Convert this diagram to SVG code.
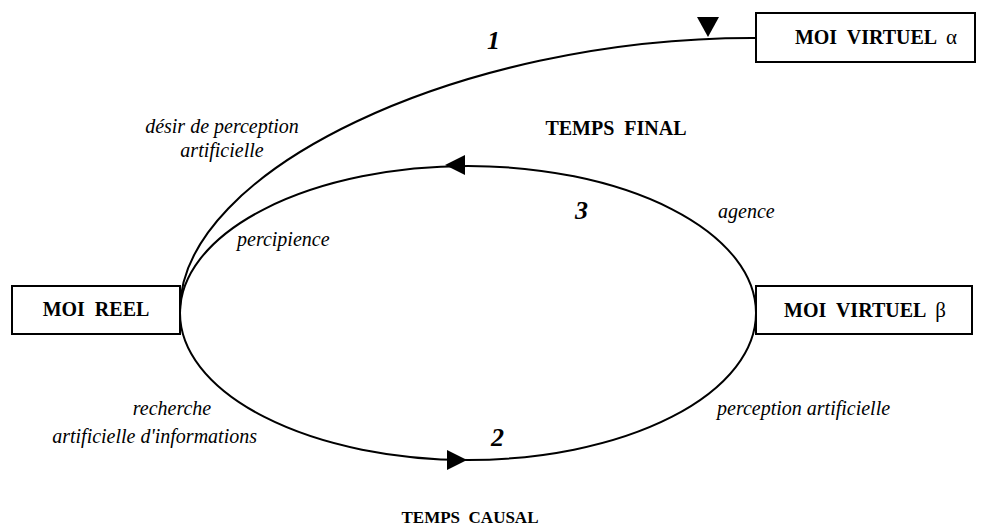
<svg xmlns="http://www.w3.org/2000/svg" width="983" height="528" viewBox="0 0 983 528">
<style>
.box{fill:#fff;stroke:#000;stroke-width:2}
.lbl{font-family:"Liberation Serif","Times New Roman",serif;font-weight:bold;font-size:20px;fill:#000}
.gr{font-weight:normal;font-size:21px}
.it{font-family:"Liberation Serif","Times New Roman",serif;font-style:italic;font-size:20px;fill:#000}
.num{font-family:"Liberation Serif","Times New Roman",serif;font-style:italic;font-weight:bold;font-size:26px;fill:#000}
.ln{fill:none;stroke:#000;stroke-width:2}
.ah{fill:#000;stroke:none}
</style>
<rect width="983" height="528" fill="#fff"/>
<g id="connectors">
<ellipse class="ln" cx="468" cy="313" rx="288" ry="147"/>
<path class="ln" d="M180,310 C180,170 460,38 752,38 L756,38"/>
<polygon class="ah" points="445,165 465,155 465,175"/>
<polygon class="ah" points="467,460 447,450 447,470"/>
<polygon class="ah" points="708,37 697,17 719,17"/>
</g>
<g id="moi-reel">
<rect class="box" x="12" y="286" width="168" height="48"/>
<text class="lbl" x="96" y="316" text-anchor="middle" xml:space="preserve">MOI  REEL</text>
</g>
<g id="moi-virtuel-alpha">
<rect class="box" x="756" y="13" width="219" height="49"/>
<text class="lbl" x="876" y="44" text-anchor="middle" xml:space="preserve">MOI  VIRTUEL  <tspan class="gr">α</tspan></text>
</g>
<g id="moi-virtuel-beta">
<rect class="box" x="756" y="286" width="216" height="48"/>
<text class="lbl" x="865" y="317" text-anchor="middle" xml:space="preserve">MOI  VIRTUEL  <tspan class="gr">β</tspan></text>
</g>
<g id="labels">
<text class="num" x="487" y="49">1</text>
<text class="num" x="575" y="219">3</text>
<text class="num" x="491" y="446">2</text>
<text class="it" x="222" y="133" text-anchor="middle">désir de perception</text>
<text class="it" x="222" y="157" text-anchor="middle">artificielle</text>
<text class="lbl" x="616" y="135" text-anchor="middle" xml:space="preserve">TEMPS  FINAL</text>
<text class="it" x="718" y="218">agence</text>
<text class="it" x="237" y="246">percipience</text>
<text class="it" x="172" y="415" text-anchor="middle">recherche</text>
<text class="it" x="257" y="443" text-anchor="end">artificielle d'informations</text>
<text class="it" x="717" y="415">perception artificielle</text>
<text class="lbl" x="470" y="523" text-anchor="middle" style="font-size:17px" xml:space="preserve">TEMPS  CAUSAL</text>
</g>
</svg>
